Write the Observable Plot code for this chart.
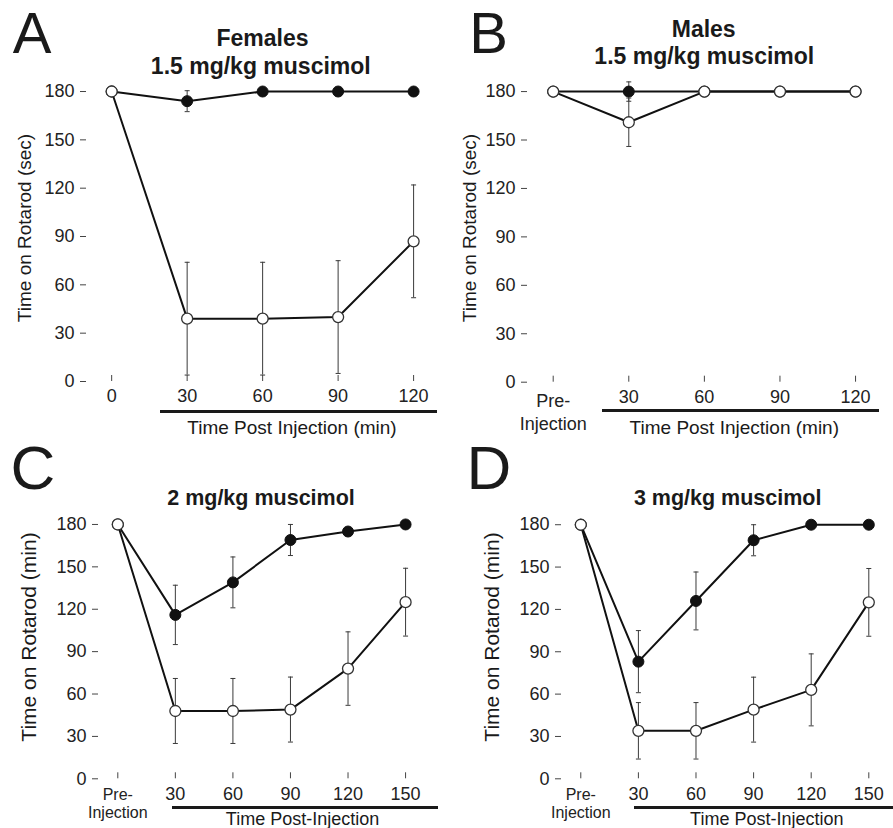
<!DOCTYPE html>
<html>
<head>
<meta charset="utf-8">
<script src="https://cdn.jsdelivr.net/npm/d3@7"></script>
<script src="https://cdn.jsdelivr.net/npm/@observablehq/plot@0.6"></script>
<style>
  body { margin: 0; background: #fff; }
  #fig { position: relative; width: 893px; height: 828px; overflow: hidden; background: #fff;
         font-family: "Liberation Sans", Arial, Helvetica, sans-serif; color: #1a1a1a; }
  .t { position: absolute; white-space: nowrap; line-height: 1; transform: translate(-50%, -50%); }
  .big { position: absolute; white-space: nowrap; line-height: 0.8; transform: translate(-50%, -50%); }
  .yl { position: absolute; white-space: nowrap; line-height: 1; transform: translate(-50%, -50%) rotate(-90deg); }
  .bar { position: absolute; background: #1a1a1a; }
  .panel { position: absolute; }
  .panel svg { overflow: visible; }
</style>
</head>
<body>
<div id="fig"></div>
<script>
// ---------------- data ----------------
const yTicks = [0, 30, 60, 90, 120, 150, 180];

// Panel A: Females, 1.5 mg/kg muscimol (sec)
const timesA = [0, 30, 60, 90, 120];
const xLabelsA = ["0", "30", "60", "90", "120"];
const filledA = [180, 174, 180, 180, 180];
const filledErrA = [0, 6.5, 0, 0, 0];
const openA = [180, 39, 39, 40, 87];
const openErrA = [0, 35, 35, 35, 35];

// Panel B: Males, 1.5 mg/kg muscimol (sec)
const timesB = [0, 30, 60, 90, 120];
const xLabelsB = ["Pre-\nInjection", "30", "60", "90", "120"];
const filledB = [180, 180, 180, 180, 180];
const filledErrB = [0, 6, 0, 0, 0];
const openB = [180, 161, 180, 180, 180];
const openErrB = [0, 15, 0, 0, 0];

// Panel C: 2 mg/kg muscimol
const timesC = [0, 30, 60, 90, 120, 150];
const xLabelsC = ["Pre-\nInjection", "30", "60", "90", "120", "150"];
const filledC = [180, 116, 139, 169, 175, 180];
const filledErrC = [0, 21, 18, 11, 2, 0];
const openC = [180, 48, 48, 49, 78, 125];
const openErrC = [0, 23, 23, 23, 26, 24];

// Panel D: 3 mg/kg muscimol
const timesD = [0, 30, 60, 90, 120, 150];
const xLabelsD = ["Pre-\nInjection", "30", "60", "90", "120", "150"];
const filledD = [180, 83, 126, 169, 180, 180];
const filledErrD = [0, 22, 20.5, 11, 0, 0];
const openD = [180, 34, 34, 49, 63, 125];
const openErrD = [0, 20, 20, 23, 25.5, 24];

// ---------------- layout ----------------
const panels = [
  { times: timesA, labels: xLabelsA, filled: filledA, filledErr: filledErrA, open: openA, openErr: openErrA,
    left: 0, top: 0, width: 446, height: 440, mL: 86, mR: 11, mT: 77, mB: 59,
    xDomain: [-10, 128.7], yDomain: [0, 188.7], preSize: 18, preLH: 1.3 },
  { times: timesB, labels: xLabelsB, filled: filledB, filledErr: filledErrB, open: openB, openErr: openErrB,
    left: 446, top: 0, width: 447, height: 440, mL: 81, mR: 13, mT: 76.7, mB: 58.3,
    xDomain: [-10.2, 129.9], yDomain: [0, 188.9], preSize: 18, preLH: 1.3 },
  { times: timesC, labels: xLabelsC, filled: filledC, filledErr: filledErrC, open: openC, openErr: openErrC,
    left: 0, top: 414, width: 446, height: 414, mL: 98, mR: 22.7, mT: 81.7, mB: 49.7,
    xDomain: [-10.06, 159.5], yDomain: [0, 200], preSize: 16, preLH: 1.15 },
  { times: timesD, labels: xLabelsD, filled: filledD, filledErr: filledErrD, open: openD, openErr: openErrD,
    left: 446, top: 414, width: 447, height: 414, mL: 115, mR: 10.3, mT: 82, mB: 49.7,
    xDomain: [-10.05, 157.5], yDomain: [0, 200], preSize: 16, preLH: 1.15 }
];

const hcap = {
  draw(ctx, size) {
    const w = Math.sqrt(size / Math.PI);
    ctx.moveTo(-w, 0);
    ctx.lineTo(w, 0);
  }
};

function rows(times, vals, errs) {
  return times.map((t, i) => ({ t, v: vals[i], e: errs[i] }));
}

function errMarks(r) {
  const d = r.filter(x => x.e > 0);
  return [
    Plot.ruleX(d, { x: "t", y1: x => x.v - x.e, y2: x => x.v + x.e, stroke: "#3a3a3a", strokeWidth: 1 }),
    Plot.dot(d, { x: "t", y: x => x.v + x.e, symbol: hcap, r: 2.5, stroke: "#3a3a3a", fill: "none", strokeWidth: 1 }),
    Plot.dot(d, { x: "t", y: x => x.v - x.e, symbol: hcap, r: 2.5, stroke: "#3a3a3a", fill: "none", strokeWidth: 1 })
  ];
}

function makePanel(c) {
  const f = rows(c.times, c.filled, c.filledErr);
  const o = rows(c.times, c.open, c.openErr);
  const lab = new Map(c.times.map((t, i) => [t, c.labels[i]]));
  const numTicks = c.times.filter(t => !lab.get(t).includes("\n"));
  const preTicks = c.times.filter(t => lab.get(t).includes("\n"));
  return Plot.plot({
    width: c.width, height: c.height,
    marginLeft: c.mL, marginRight: c.mR, marginTop: c.mT, marginBottom: c.mB,
    style: { fontFamily: '"Liberation Sans", Arial, sans-serif', fontSize: "18px", color: "#222", background: "transparent", overflow: "visible" },
    x: { domain: c.xDomain, axis: null },
    y: { domain: c.yDomain, axis: null },
    marks: [
      Plot.axisY({ ticks: yTicks, tickSize: 6, tickPadding: 6, line: true, label: null, stroke: "#444", fill: "#222", fontSize: 18 }),
      Plot.axisX({ ticks: c.times, tickSize: 6, dy: -6, tickFormat: () => "", label: null, stroke: "#444" }),
      Plot.axisX(numTicks, { tickSize: 0, tickPadding: 8, tickFormat: d => lab.get(d), line: true, label: null, stroke: "#444", fill: "#222", fontSize: 18 }),
      Plot.axisX(preTicks, { tickSize: 0, tickPadding: 8, tickFormat: d => lab.get(d), label: null, fill: "#222", fontSize: c.preSize, lineHeight: c.preLH }),
      Plot.line(f, { x: "t", y: "v", stroke: "#111", strokeWidth: 2 }),
      ...errMarks(f),
      Plot.dot(f, { x: "t", y: "v", r: 5.5, fill: "#111", stroke: "#111", strokeWidth: 1 }),
      Plot.line(o, { x: "t", y: "v", stroke: "#111", strokeWidth: 2 }),
      ...errMarks(o),
      Plot.dot(o, { x: "t", y: "v", r: 5.5, fill: "#fff", stroke: "#333", strokeWidth: 1.3 })
    ]
  });
}

const fig = document.getElementById("fig");
panels.forEach(c => {
  const wrap = document.createElement("div");
  wrap.className = "panel";
  wrap.style.left = c.left + "px";
  wrap.style.top = c.top + "px";
  wrap.appendChild(makePanel(c));
  fig.appendChild(wrap);
});

// ---------------- text & decorations ----------------
function txt(s, x, y, size, weight, cls) {
  const d = document.createElement("div");
  d.className = cls || "t";
  d.textContent = s;
  d.style.left = x + "px";
  d.style.top = y + "px";
  d.style.fontSize = size + "px";
  if (weight) d.style.fontWeight = weight;
  fig.appendChild(d);
}
function bar(x1, x2, y) {
  const d = document.createElement("div");
  d.className = "bar";
  d.style.left = x1 + "px";
  d.style.width = (x2 - x1) + "px";
  d.style.top = (y - 1.5) + "px";
  d.style.height = "3px";
  fig.appendChild(d);
}

// panel letters
txt("A", 32, 32.7, 58, null, "big");
txt("B", 488.5, 32.7, 58, null, "big");
txt("C", 33, 468, 62, null, "big");
txt("D", 489, 467.5, 62, null, "big");

// titles
txt("Females", 262.5, 37.5, 23, "bold");
txt("1.5 mg/kg muscimol", 260.8, 65.8, 23, "bold");
txt("Males", 703.7, 28.8, 23, "bold");
txt("1.5 mg/kg muscimol", 704.3, 56.3, 23, "bold");
txt("2 mg/kg muscimol", 261, 499, 21.5, "bold");
txt("3 mg/kg muscimol", 727.7, 499, 21.5, "bold");

// y labels
txt("Time on Rotarod (sec)", 24, 228, 19, null, "yl");
txt("Time on Rotarod (sec)", 469, 228.3, 19, null, "yl");
txt("Time on Rotarod (min)", 28.3, 636.5, 21, null, "yl");
txt("Time on Rotarod (min)", 491, 636.5, 21, null, "yl");

// x labels with underline bars
bar(160, 437, 411);
bar(602, 879.3, 410);
bar(171.7, 438.3, 807.3);
bar(634.3, 892.7, 807.3);
txt("Time Post Injection (min)", 292, 426.5, 19);
txt("Time Post Injection (min)", 734.3, 426.5, 19);
txt("Time Post-Injection", 302.5, 819, 18);
txt("Time Post-Injection", 766.8, 819, 18);
</script>
</body>
</html>
